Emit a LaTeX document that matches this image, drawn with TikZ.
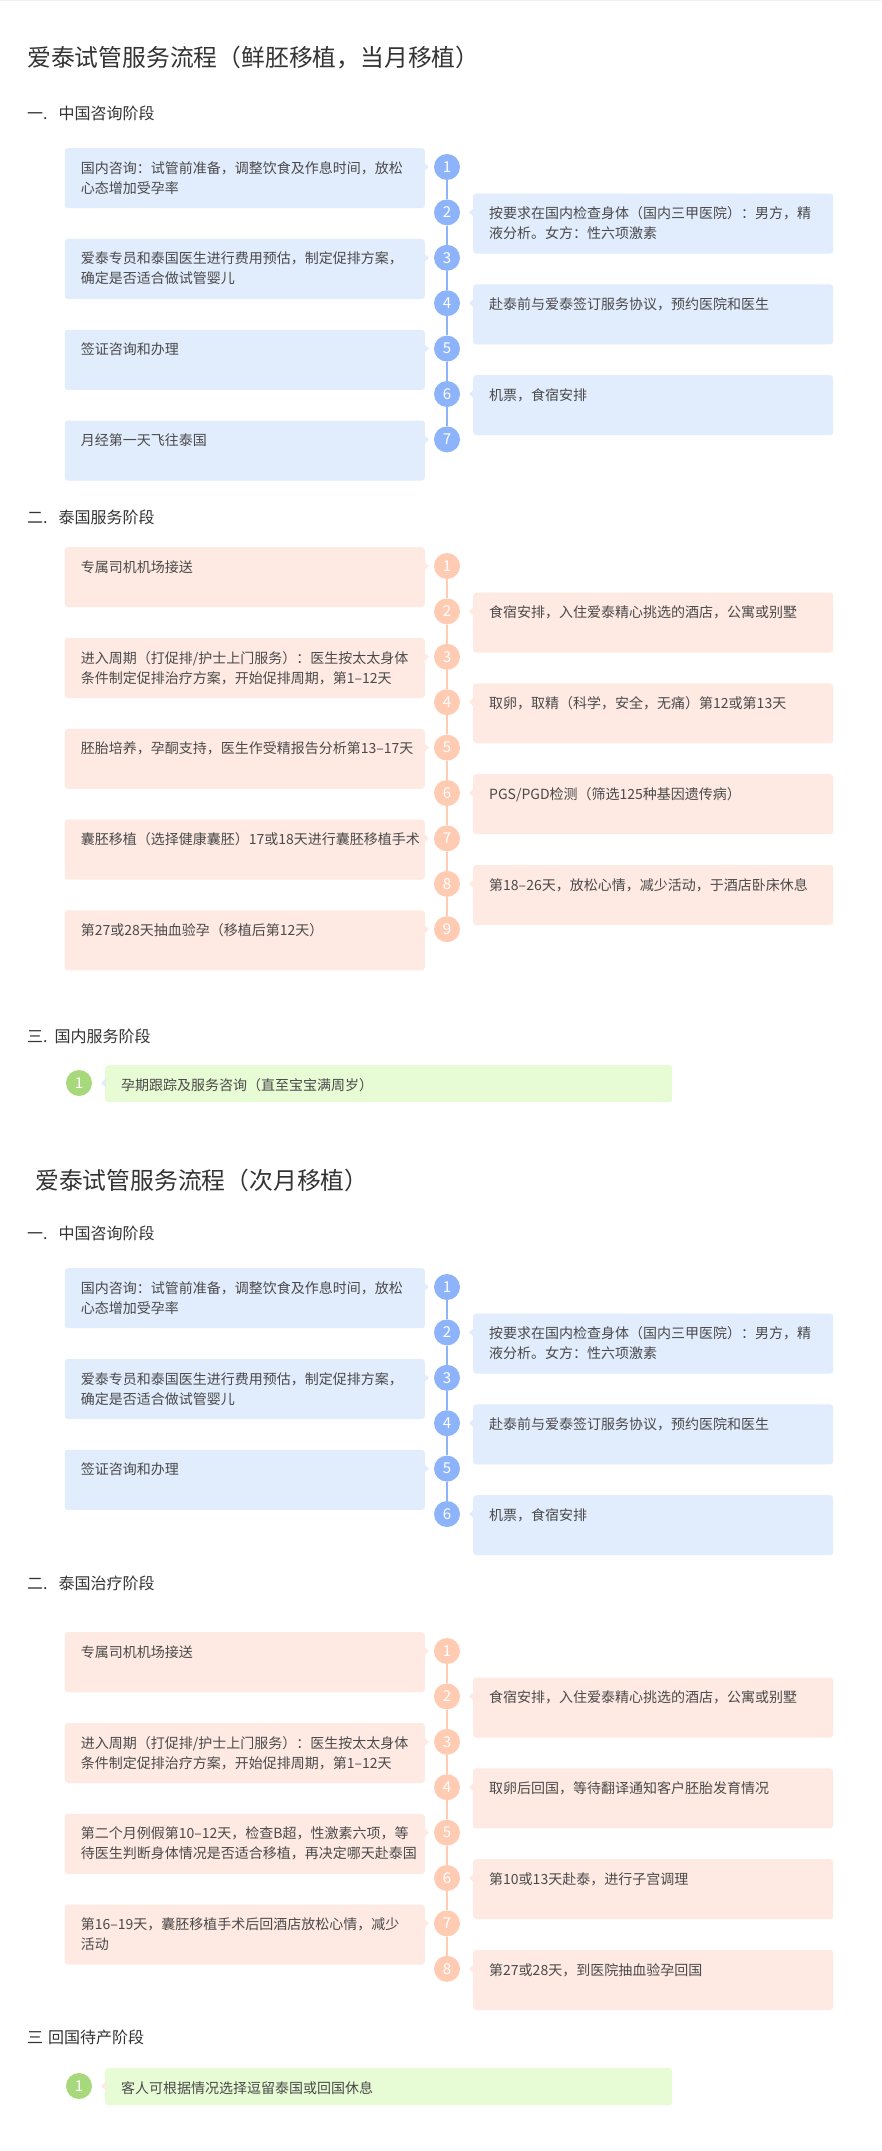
\documentclass[tikz,border=0pt]{standalone}
\usepackage{fontspec}
\setmainfont{Noto Sans CJK SC}
\usetikzlibrary{positioning, calc}
\definecolor{titleGrey}{HTML}{333333}
\definecolor{textGrey}{HTML}{4A4A4A}
\definecolor{consultBlue}{HTML}{8DB4FA}
\definecolor{consultFill}{HTML}{E1ECFD}
\definecolor{thaiOrange}{HTML}{FFCBB3}
\definecolor{thaiFill}{HTML}{FEEAE2}
\definecolor{homeGreen}{HTML}{A7D87B}
\definecolor{homeFill}{HTML}{E7FBD4}

\begin{document}
\begin{tikzpicture}[x=1pt, y=1pt,
    maintitle/.style={anchor=west, inner sep=0pt, text=titleGrey, font=\fontsize{23.8}{28}\selectfont},
    stagehead/.style={anchor=west, inner sep=0pt, text=titleGrey, font=\fontsize{16}{20}\selectfont},
    card/.style={rounded corners=3pt, text width=328pt, align=left, inner xsep=16pt, inner ysep=10pt,
                 text height=15pt, text depth=25pt, text=textGrey, font=\fontsize{14}{20}\selectfont},
    cardL/.style={card, anchor=north east},
    cardR/.style={card, anchor=north west},
    homecard/.style={card, anchor=north west, text width=535pt, inner ysep=8pt, text height=17pt, text depth=4pt},
    numdot/.style={circle, minimum size=26pt, inner sep=0pt, text=white, font=\fontsize{15}{15}\selectfont},
    cndot/.style={numdot, fill=consultBlue},
    thdot/.style={numdot, fill=thaiOrange},
    hmdot/.style={numdot, fill=homeGreen},
    cnline/.style={draw=consultBlue, line width=1.2pt},
    thline/.style={draw=thaiOrange, line width=1.2pt}]

  \useasboundingbox (0,0) rectangle (881,-2151);
  \fill[white] (0,0) rectangle (881,-2151);
  \fill[black!6] (0,0) rectangle (881,-1);

  % ---------- flow 1 ----------
  \node[maintitle] (p-title) at (27,-58) {爱泰试管服务流程（鲜胚移植，当月移植）};

  \node[stagehead] (p-cnhead) at (27,-113) {一.\hspace{11pt}中国咨询阶段};
  \node[cndot] (p-cn1) at (447,-167) {1};
  \node[cndot, below=19pt of p-cn1] (p-cn2) {2};
  \node[cndot, below=19pt of p-cn2] (p-cn3) {3};
  \node[cndot, below=19pt of p-cn3] (p-cn4) {4};
  \node[cndot, below=19pt of p-cn4] (p-cn5) {5};
  \node[cndot, below=19pt of p-cn5] (p-cn6) {6};
  \node[cndot, below=19pt of p-cn6] (p-cn7) {7};
  \node[cardL, fill=consultFill] (p-cnb1) at ($(p-cn1)+(-22,19)$) {国内咨询：试管前准备，调整饮食及作息时间，放松\\心态增加受孕率};
  \node[cardR, fill=consultFill] (p-cnb2) at ($(p-cn2)+(26,19)$) {按要求在国内检查身体（国内三甲医院）：男方，精\\液分析。女方：性六项激素};
  \node[cardL, fill=consultFill] (p-cnb3) at ($(p-cn3)+(-22,19)$) {爱泰专员和泰国医生进行费用预估，制定促排方案，\\确定是否适合做试管婴儿};
  \node[cardR, fill=consultFill] (p-cnb4) at ($(p-cn4)+(26,19)$) {赴泰前与爱泰签订服务协议，预约医院和医生};
  \node[cardL, fill=consultFill] (p-cnb5) at ($(p-cn5)+(-22,19)$) {签证咨询和办理};
  \node[cardR, fill=consultFill] (p-cnb6) at ($(p-cn6)+(26,19)$) {机票，食宿安排};
  \node[cardL, fill=consultFill] (p-cnb7) at ($(p-cn7)+(-22,19)$) {月经第一天飞往泰国};
  \foreach \i [count=\j from 2] in {1,...,6}
    \draw[cnline] (p-cn\i) -- (p-cn\j);
  \foreach \i in {1,3,5,7}
    \fill[consultFill] ($(p-cnb\i.east |- p-cn\i)+(-1,4.5)$) -- ++(5,-4.5) -- ++(-5,-4.5) -- cycle;
  \foreach \i in {2,4,6}
    \fill[consultFill] ($(p-cnb\i.west |- p-cn\i)+(1,4.5)$) -- ++(-5,-4.5) -- ++(5,-4.5) -- cycle;

  \node[stagehead] (p-thhead) at (27,-517) {二.\hspace{11pt}泰国服务阶段};
  \node[thdot] (p-th1) at (447,-566) {1};
  \node[thdot, below=19pt of p-th1] (p-th2) {2};
  \node[thdot, below=19pt of p-th2] (p-th3) {3};
  \node[thdot, below=19pt of p-th3] (p-th4) {4};
  \node[thdot, below=19pt of p-th4] (p-th5) {5};
  \node[thdot, below=19pt of p-th5] (p-th6) {6};
  \node[thdot, below=19pt of p-th6] (p-th7) {7};
  \node[thdot, below=19pt of p-th7] (p-th8) {8};
  \node[thdot, below=19pt of p-th8] (p-th9) {9};
  \node[cardL, fill=thaiFill] (p-thb1) at ($(p-th1)+(-22,19)$) {专属司机机场接送};
  \node[cardR, fill=thaiFill] (p-thb2) at ($(p-th2)+(26,19)$) {食宿安排，入住爱泰精心挑选的酒店，公寓或别墅};
  \node[cardL, fill=thaiFill] (p-thb3) at ($(p-th3)+(-22,19)$) {进入周期（打促排/护士上门服务）：医生按太太身体\\条件制定促排治疗方案，开始促排周期，第1–12天};
  \node[cardR, fill=thaiFill] (p-thb4) at ($(p-th4)+(26,19)$) {取卵，取精（科学，安全，无痛）第12或第13天};
  \node[cardL, fill=thaiFill] (p-thb5) at ($(p-th5)+(-22,19)$) {\mbox{胚胎培养，孕酮支持，医生作受精报告分析第13–17天}};
  \node[cardR, fill=thaiFill] (p-thb6) at ($(p-th6)+(26,19)$) {PGS/PGD检测（筛选125种基因遗传病）};
  \node[cardL, fill=thaiFill] (p-thb7) at ($(p-th7)+(-22,19)$) {\mbox{囊胚移植（选择健康囊胚）17或18天进行囊胚移植手术}};
  \node[cardR, fill=thaiFill] (p-thb8) at ($(p-th8)+(26,19)$) {第18–26天，放松心情，减少活动，于酒店卧床休息};
  \node[cardL, fill=thaiFill] (p-thb9) at ($(p-th9)+(-22,19)$) {第27或28天抽血验孕（移植后第12天）};
  \foreach \i [count=\j from 2] in {1,...,8}
    \draw[thline] (p-th\i) -- (p-th\j);
  \foreach \i in {1,3,5,7,9}
    \fill[thaiFill] ($(p-thb\i.east |- p-th\i)+(-1,4.5)$) -- ++(5,-4.5) -- ++(-5,-4.5) -- cycle;
  \foreach \i in {2,4,6,8}
    \fill[thaiFill] ($(p-thb\i.west |- p-th\i)+(1,4.5)$) -- ++(-5,-4.5) -- ++(5,-4.5) -- cycle;

  \node[stagehead] (p-hmhead) at (27,-1036) {三.\hspace{7pt}国内服务阶段};
  \node[hmdot] (p-hm1) at (79,-1083) {1};
  \node[homecard, fill=homeFill] (p-hmb1) at ($(p-hm1)+(26,18)$) {孕期跟踪及服务咨询（直至宝宝满周岁）};
  \fill[consultFill] ($(p-hmb1.west |- p-hm1)+(1,4.5)$) -- ++(-5,-4.5) -- ++(5,-4.5) -- cycle;

  % ---------- flow 2 ----------
  \node[maintitle] (q-title) at (35,-1180) {爱泰试管服务流程（次月移植）};

  \node[stagehead] (q-cnhead) at (27,-1233) {一.\hspace{11pt}中国咨询阶段};
  \node[cndot] (q-cn1) at (447,-1287) {1};
  \node[cndot, below=19pt of q-cn1] (q-cn2) {2};
  \node[cndot, below=19pt of q-cn2] (q-cn3) {3};
  \node[cndot, below=19pt of q-cn3] (q-cn4) {4};
  \node[cndot, below=19pt of q-cn4] (q-cn5) {5};
  \node[cndot, below=19pt of q-cn5] (q-cn6) {6};
  \node[cardL, fill=consultFill] (q-cnb1) at ($(q-cn1)+(-22,19)$) {国内咨询：试管前准备，调整饮食及作息时间，放松\\心态增加受孕率};
  \node[cardR, fill=consultFill] (q-cnb2) at ($(q-cn2)+(26,19)$) {按要求在国内检查身体（国内三甲医院）：男方，精\\液分析。女方：性六项激素};
  \node[cardL, fill=consultFill] (q-cnb3) at ($(q-cn3)+(-22,19)$) {爱泰专员和泰国医生进行费用预估，制定促排方案，\\确定是否适合做试管婴儿};
  \node[cardR, fill=consultFill] (q-cnb4) at ($(q-cn4)+(26,19)$) {赴泰前与爱泰签订服务协议，预约医院和医生};
  \node[cardL, fill=consultFill] (q-cnb5) at ($(q-cn5)+(-22,19)$) {签证咨询和办理};
  \node[cardR, fill=consultFill] (q-cnb6) at ($(q-cn6)+(26,19)$) {机票，食宿安排};
  \foreach \i [count=\j from 2] in {1,...,5}
    \draw[cnline] (q-cn\i) -- (q-cn\j);
  \foreach \i in {1,3,5}
    \fill[consultFill] ($(q-cnb\i.east |- q-cn\i)+(-1,4.5)$) -- ++(5,-4.5) -- ++(-5,-4.5) -- cycle;
  \foreach \i in {2,4,6}
    \fill[consultFill] ($(q-cnb\i.west |- q-cn\i)+(1,4.5)$) -- ++(-5,-4.5) -- ++(5,-4.5) -- cycle;

  \node[stagehead] (q-thhead) at (27,-1583) {二.\hspace{11pt}泰国治疗阶段};
  \node[thdot] (q-th1) at (447,-1651) {1};
  \node[thdot, below=19pt of q-th1] (q-th2) {2};
  \node[thdot, below=19pt of q-th2] (q-th3) {3};
  \node[thdot, below=19pt of q-th3] (q-th4) {4};
  \node[thdot, below=19pt of q-th4] (q-th5) {5};
  \node[thdot, below=19pt of q-th5] (q-th6) {6};
  \node[thdot, below=19pt of q-th6] (q-th7) {7};
  \node[thdot, below=19pt of q-th7] (q-th8) {8};
  \node[cardL, fill=thaiFill] (q-thb1) at ($(q-th1)+(-22,19)$) {专属司机机场接送};
  \node[cardR, fill=thaiFill] (q-thb2) at ($(q-th2)+(26,19)$) {食宿安排，入住爱泰精心挑选的酒店，公寓或别墅};
  \node[cardL, fill=thaiFill] (q-thb3) at ($(q-th3)+(-22,19)$) {进入周期（打促排/护士上门服务）：医生按太太身体\\条件制定促排治疗方案，开始促排周期，第1–12天};
  \node[cardR, fill=thaiFill] (q-thb4) at ($(q-th4)+(26,19)$) {取卵后回国，等待翻译通知客户胚胎发育情况};
  \node[cardL, fill=thaiFill] (q-thb5) at ($(q-th5)+(-22,19)$) {第二个月例假第10–12天，检查B超，性激素六项，等\\待医生判断身体情况是否适合移植，再决定哪天赴泰国};
  \node[cardR, fill=thaiFill] (q-thb6) at ($(q-th6)+(26,19)$) {第10或13天赴泰，进行子宫调理};
  \node[cardL, fill=thaiFill] (q-thb7) at ($(q-th7)+(-22,19)$) {第16–19天，囊胚移植手术后回酒店放松心情，减少\\活动};
  \node[cardR, fill=thaiFill] (q-thb8) at ($(q-th8)+(26,19)$) {第27或28天，到医院抽血验孕回国};
  \foreach \i [count=\j from 2] in {1,...,7}
    \draw[thline] (q-th\i) -- (q-th\j);
  \foreach \i in {1,3,5,7}
    \fill[thaiFill] ($(q-thb\i.east |- q-th\i)+(-1,4.5)$) -- ++(5,-4.5) -- ++(-5,-4.5) -- cycle;
  \foreach \i in {2,4,6,8}
    \fill[thaiFill] ($(q-thb\i.west |- q-th\i)+(1,4.5)$) -- ++(-5,-4.5) -- ++(5,-4.5) -- cycle;

  \node[stagehead] (q-hmhead) at (27,-2037) {三\hspace{5pt}回国待产阶段};
  \node[hmdot] (q-hm1) at (79,-2086) {1};
  \node[homecard, fill=homeFill] (q-hmb1) at ($(q-hm1)+(26,18)$) {客人可根据情况选择逗留泰国或回国休息};
  \fill[thaiFill] ($(q-hmb1.west |- q-hm1)+(1,4.5)$) -- ++(-5,-4.5) -- ++(5,-4.5) -- cycle;
\end{tikzpicture}
\end{document}
